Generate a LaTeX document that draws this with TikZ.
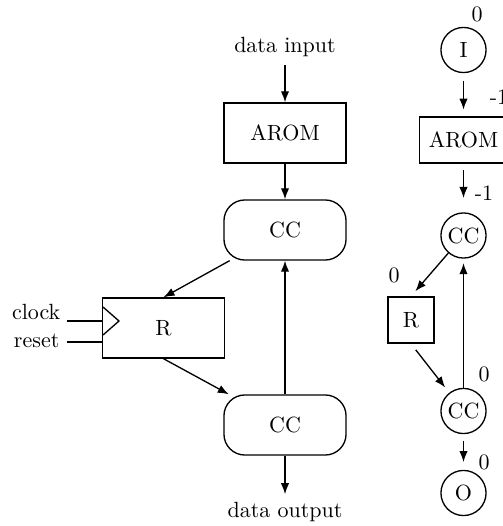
\documentclass[tikz,border=0pt]{standalone}
\usetikzlibrary{arrows.meta}
\begin{document}
\begin{tikzpicture}[x=0.4545pt, y=-0.4545pt, line width=0.6pt,
  conn/.style={-{Latex[length=5pt,width=3.8pt]}},
  block/.style={draw, minimum width=55.5pt, minimum height=27.3pt, inner sep=0pt},
  ccbox/.style={block, rounded corners=9.5pt},
  dot/.style={draw, circle, minimum size=20.5pt, inner sep=0pt},
  sq/.style={draw, minimum size=21pt, inner sep=0pt},
  lbl/.style={inner sep=0pt}]
\useasboundingbox (0,0) rectangle (502,526);

% ---- circuit view ----
\node (din) at (285,47) {data input};
\node[block] (arom) at (285,133) {AROM};
\node[ccbox] (cc1) at (285,230) {CC};
\node[block] (reg) at (163.5,328) {R};
\node[ccbox] (cc2) at (285,425) {CC};
\node (dout) at (285,512) {data output};

% clock and reset inputs of the register
\node[lbl, anchor=base east] (clk) at (61,319) {clock};
\node[lbl, anchor=base east] (rst) at (60,347) {reset};
\coordinate (clkend) at (67,321);
\coordinate (clkpin) at (103,321);
\coordinate (rstend) at (67,342);
\coordinate (rstpin) at (103,342);
\draw (clkend) -- (clkpin);
\draw (rstend) -- (rstpin);
\draw (103,307) -- (119,321) -- (103,335);

\draw[conn] (din) -- (arom);
\draw[conn] (arom) -- (cc1);
\draw[conn] (cc1) -- (reg.north);
\draw[conn] (reg.south) -- (cc2);
\draw[conn] (cc2) -- (cc1);
\draw[conn] (cc2) -- (dout);

% ---- graph view with delays ----
\node[dot] (in) at (463.5,50) {I};
\node[block, minimum width=40pt, minimum height=21pt] (arom2) at (463.5,140) {AROM};
\node[dot] (cc3) at (463.5,235.5) {CC};
\node[sq] (r2) at (411,320) {R};
\node[dot] (cc4) at (463.5,411) {CC};
\node[dot] (out) at (463.5,493) {O};

\node[lbl] (d0) at (477,14) {0};
\node[lbl] (d1) at (499,97) {-1};
\node[lbl] (d2) at (484,193) {-1};
\node[lbl] (d3) at (394,275) {0};
\node[lbl] (d4) at (484,374) {0};
\node[lbl] (d5) at (484,462) {0};

\draw[conn, shorten <=3.5pt, shorten >=3pt] (in) -- (arom2);
\draw[conn, shorten <=3pt, shorten >=6.5pt] (arom2) -- (cc3);
\draw[conn, shorten >=3pt] (cc3) -- (r2.north);
\draw[conn, shorten <=3.5pt, shorten >=3pt] (r2.south) -- (cc4);
\draw[conn, shorten >=2pt] (cc4) -- (cc3);
\draw[conn, shorten <=3pt, shorten >=3.5pt] (cc4) -- (out);
\end{tikzpicture}
\end{document}
